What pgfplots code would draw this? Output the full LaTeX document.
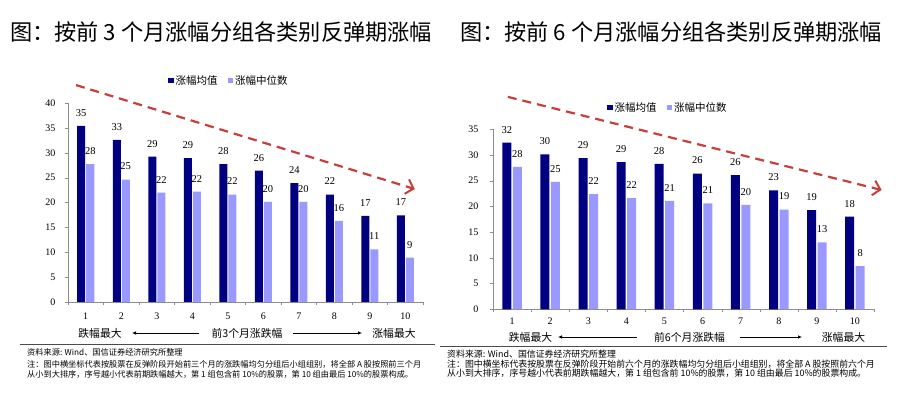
\documentclass[border=0pt]{standalone}
\usepackage{fontspec}
\setmainfont{Liberation Serif}
\newfontfamily\cjk{Noto Sans CJK SC}
\usepackage{pgfplots}
\pgfplotsset{compat=1.18}
\usetikzlibrary{arrows.meta}
\definecolor{darkbar}{RGB}{0,0,128}
\definecolor{lightbar}{RGB}{153,153,255}
\definecolor{arrowred}{RGB}{200,62,58}
\definecolor{axisgray}{RGB}{140,140,140}

\pgfplotsset{
  ybar legend/.style={legend image code/.code={\fill[##1,draw=none] (0pt,-2.7pt) rectangle (5.5pt,2.7pt);}},
  mystyle/.style={
    scale only axis,
    ybar,
    axis x line*=bottom, axis y line*=left,
    axis line style={axisgray},
    xmin=0.5, xmax=10.5, ymin=0,
    xtick={1,...,10},
    major x tick style={draw=none},
    minor xtick={0.5,1.5,...,10.5},
    minor tick length=3pt,
    major tick length=3pt,
    tick align=outside,
    tick style={axisgray},
    ytick distance=5,
    ticklabel style={font=\fontsize{10}{12}\selectfont},
    /pgf/number format/assume math mode=true,
    clip=false,
    nodes near coords={\pgfmathprintnumber[fixed,precision=0]{\pgfplotspointmeta}},
    every node near coord/.append style={font=\fontsize{10.5}{12}\selectfont, yshift=6pt},
    legend columns=2,
    legend style={draw=none, fill=none, font=\cjk\fontsize{10.5}{12}\selectfont,
      /tikz/every even column/.append style={column sep=8pt}},
  }
}

\begin{document}
\begin{tikzpicture}
\useasboundingbox (0pt,0pt) rectangle (900pt,395pt);

% titles
\node[anchor=west,inner sep=0] at (10pt,363pt) {\cjk\fontsize{22.2}{24}\selectfont 图：按前 3 个月涨幅分组各类别反弹期涨幅};
\node[anchor=west,inner sep=0] at (460pt,363pt) {\cjk\fontsize{22.2}{24}\selectfont 图：按前 6 个月涨幅分组各类别反弹期涨幅};

% left axis
\begin{axis}[mystyle,
  at={(68pt,93pt)}, anchor=south west,
  width=355pt, height=199pt,
  ymax=40, bar width=8pt, ybar=1pt,
  yticklabel style={xshift=-6pt},
  xticklabel style={yshift=-4pt},
  legend style={at={(0.4535,1.112)},anchor=center},
]
\addplot[fill=darkbar,draw=none] coordinates {
(1,35.4) (2,32.6) (3,29.2) (4,28.9) (5,27.7) (6,26.4) (7,23.9) (8,21.6) (9,17.3) (10,17.4)};
\addplot[fill=lightbar,draw=none] coordinates {
(1,27.7) (2,24.6) (3,22.0) (4,22.2) (5,21.6) (6,20.1) (7,20.1) (8,16.3) (9,10.6) (10,8.9)};
\legend{涨幅均值,涨幅中位数}
\draw[arrowred, line width=2.2pt, dash pattern=on 9pt off 6pt, -{Straight Barb[length=7pt,width=15pt,line width=2pt]}]
  (axis cs:0.725,43.6) -- (axis cs:10.27,22.7);
\end{axis}

% right axis
\begin{axis}[mystyle,
  at={(493pt,85.7pt)}, anchor=south west,
  width=381pt, height=180pt,
  ymax=35, bar width=9pt, ybar=1.5pt,
  yticklabel style={xshift=-8pt},
  xticklabel style={yshift=-2pt},
  legend style={at={(0.459,1.12)},anchor=center},
]
\addplot[fill=darkbar,draw=none] coordinates {
(1,32.4) (2,30.1) (3,29.4) (4,28.6) (5,28.3) (6,26.4) (7,26.1) (8,23.1) (9,19.3) (10,18.0)};
\addplot[fill=lightbar,draw=none] coordinates {
(1,27.7) (2,24.8) (3,22.4) (4,21.6) (5,21.1) (6,20.6) (7,20.3) (8,19.4) (9,13.0) (10,8.4)};
\legend{涨幅均值,涨幅中位数}
\draw[arrowred, line width=2.2pt, dash pattern=on 9pt off 6pt, -{Straight Barb[length=7pt,width=15pt,line width=2pt]}]
  (axis cs:0.89,41.3) -- (axis cs:10.7,23.2);
\end{axis}

% bottom rows
\begin{scope}[every node/.style={inner sep=0, font=\cjk\fontsize{10.8}{12}\selectfont}]
\node at (100pt,62pt) {跌幅最大};
\draw[-{Latex[length=4pt,width=3.5pt]}, line width=0.7pt] (199pt,62pt) -- (132pt,62pt);
\node at (247pt,62pt) {前3个月涨跌幅};
\draw[-{Latex[length=4pt,width=3.5pt]}, line width=0.7pt] (293pt,62pt) -- (362pt,62pt);
\node at (394pt,62pt) {涨幅最大};

\node at (530.5pt,58pt) {跌幅最大};
\draw[-{Latex[length=4pt,width=3.5pt]}, line width=0.7pt] (637pt,58pt) -- (558pt,58pt);
\node at (689.5pt,58pt) {前6个月涨跌幅};
\draw[-{Latex[length=4pt,width=3.5pt]}, line width=0.7pt] (740pt,58pt) -- (802pt,58pt);
\node at (843.5pt,58pt) {涨幅最大};
\end{scope}

% separator lines
\draw[line width=0.9pt, black!70] (20pt,51pt) -- (435pt,51pt);
\draw[line width=0.9pt, black!70] (440pt,49pt) -- (887pt,49pt);

% notes
\begin{scope}[every node/.style={inner sep=0, anchor=west, font=\cjk\fontsize{8.2}{10}\selectfont}]
\node at (27pt,43pt) {资料来源: Wind、国信证券经济研究所整理};
\node at (27pt,31pt) {注：图中横坐标代表按股票在反弹阶段开始前三个月的涨跌幅均匀分组后小组组别，将全部 A 股按照前三个月};
\node at (27pt,21pt) {从小到大排序，序号越小代表前期跌幅越大，第 1 组包含前 10\%的股票，第 10 组由最后 10\%的股票构成。};
\end{scope}
\begin{scope}[every node/.style={inner sep=0, anchor=west, font=\cjk\fontsize{8.9}{10}\selectfont}]
\node at (447pt,41pt) {资料来源: Wind、国信证券经济研究所整理};
\node at (447pt,31pt) {注：图中横坐标代表按股票在反弹阶段开始前六个月的涨跌幅均匀分组后小组组别，将全部 A 股按照前六个月};
\node at (447pt,22pt) {从小到大排序，序号越小代表前期跌幅越大，第 1 组包含前 10\%的股票，第 10 组由最后 10\%的股票构成。};
\end{scope}
\end{tikzpicture}
\end{document}
